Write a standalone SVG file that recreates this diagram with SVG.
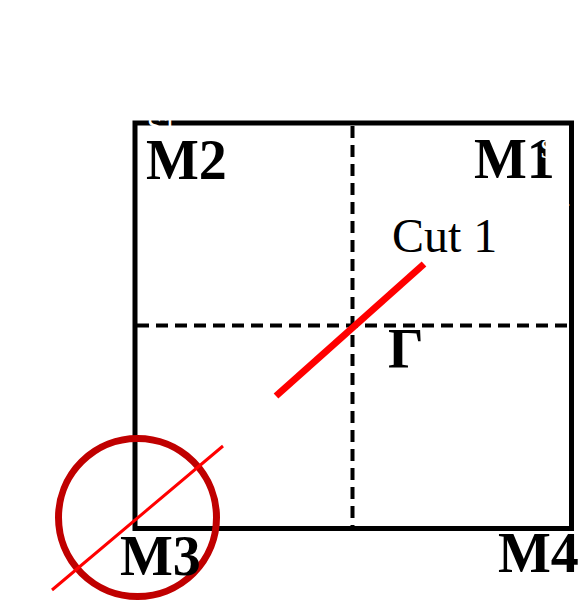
<svg xmlns="http://www.w3.org/2000/svg" width="587" height="601" viewBox="0 0 587 601">
<style>
.lbl{font-family:"Liberation Serif","Times New Roman",serif;font-weight:bold;font-size:56px;fill:#000}
.cut{font-family:"Liberation Serif","Times New Roman",serif;font-size:48px;fill:#000}
.ghost{font-family:"Liberation Serif","Times New Roman",serif;font-size:64px;fill:#fff}
.ghost-s{font-family:"Liberation Serif","Times New Roman",serif;font-size:28px;fill:#fff}
.dash{stroke:#000;stroke-width:4;stroke-dasharray:12 7;fill:none}
</style>
<rect width="587" height="601" fill="#fff"/>
<g id="connectors">
  <line class="dash" x1="352.5" y1="126" x2="352.5" y2="526"/>
  <line class="dash" x1="137" y1="325.5" x2="569" y2="325.5"/>
</g>
<g id="frame">
  <rect x="135" y="123" width="436.5" height="405.5" fill="none" stroke="#000" stroke-width="5"/>
</g>
<g id="cut1">
  <line x1="276" y1="396" x2="424" y2="264" stroke="#ff0000" stroke-width="7"/>
  <text class="cut" x="392" y="252">Cut 1</text>
</g>
<g id="gamma">
  <text class="lbl" x="388" y="368">Γ</text>
</g>
<g id="M2"><text class="lbl" x="146" y="179">M2</text></g>
<g id="M1"><text class="lbl" x="474" y="178">M1</text></g>
<g id="M4"><text class="lbl" x="498" y="572">M4</text></g>
<g id="circle">
  <circle cx="137.5" cy="517.5" r="79" fill="none" stroke="#c00000" stroke-width="7"/>
  <line x1="52" y1="590" x2="223" y2="446" stroke="#ff0000" stroke-width="3"/>
</g>
<g id="M3"><text class="lbl" x="120" y="575">M3</text></g>
<g id="ghost-labels">
  <text class="ghost" x="12" y="62">a</text>
  <text class="ghost" x="90" y="62">b</text>
  <text class="ghost" x="168" y="62">c</text>
  <text class="ghost-s" x="138" y="88">GA</text>
  <text class="ghost" x="250" y="62">d</text>
  <text class="ghost-s" x="285" y="58">(½)</text>
  <text class="ghost" x="327" y="62">e</text>
  <text class="ghost-s" x="378" y="88">S2</text>
  <text class="ghost" x="418" y="62">f</text>
  <text class="ghost-s" x="440" y="58">(⅔)</text>
  <text class="ghost" x="490" y="62">g</text>
  <text class="ghost-s" x="540" y="88">S2</text>
  <text class="ghost-s" x="147" y="135">S1</text>
  <text class="ghost-s" x="540" y="158">S3</text>
  <text class="ghost-s" x="540" y="210">S4</text>
</g>
</svg>
